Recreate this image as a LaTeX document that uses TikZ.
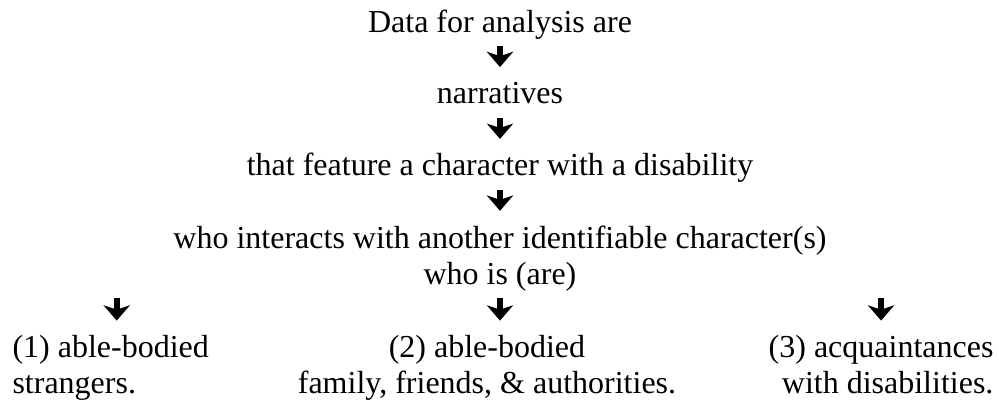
\documentclass[tikz,border=0pt]{standalone}
\usepackage{fontspec}
\setmainfont{Liberation Serif}
\usetikzlibrary{arrows.meta,positioning}
\tikzset{dnarr/.style={line width=2.3pt, shorten <=2.4pt, shorten >=5.4pt,
    -{Stealth[length=5.8pt, width=10pt, inset=1.7pt, line width=0pt]}},
  lbl/.style={inner sep=0pt, font=\fontsize{12}{13.4}\selectfont},
  row/.style={lbl, text height=8.2pt, text depth=2.6pt}}

\begin{document}
\begin{tikzpicture}[x=0.375pt, y=-0.375pt, node distance=15.75pt]
  \useasboundingbox (0,0) rectangle (999,402);
  \node[row, anchor=base] (d1) at (500,32) {Data for analysis are};
  \node[row, below=of d1] (d2) {narratives};
  \node[row, below=of d2] (d3) {that feature a character with a disability};
  \node[lbl, align=center, below=of d3] (d4) {who interacts with another identifiable character(s)\\who is (are)};
  \foreach \a/\b in {d1/d2, d2/d3, d3/d4}{\draw[dnarr] (\a.south) -- (\b.north);}
  % the three kinds of partner
  \node[lbl, align=left, anchor=north west] (b1) at (12,335) {(1) able-bodied\\strangers.};
  \node[lbl, align=center, anchor=north] (b2) at (487,335) {(2) able-bodied\\family, friends, \& authorities.};
  \node[lbl, align=right, anchor=north east] (b3) at (994,335) {(3) acquaintances\\with disabilities.};
  \coordinate (a1) at ([xshift=2.25pt]b1.north);
  \draw[dnarr, shorten <=2.6pt] (d4.south -| a1) -- (a1);
  \draw[dnarr, shorten <=2.6pt] (d4.south) -- (d4.south |- b2.north);
  \draw[dnarr, shorten <=2.6pt] (d4.south -| b3.north) -- (b3.north);
\end{tikzpicture}
\end{document}
